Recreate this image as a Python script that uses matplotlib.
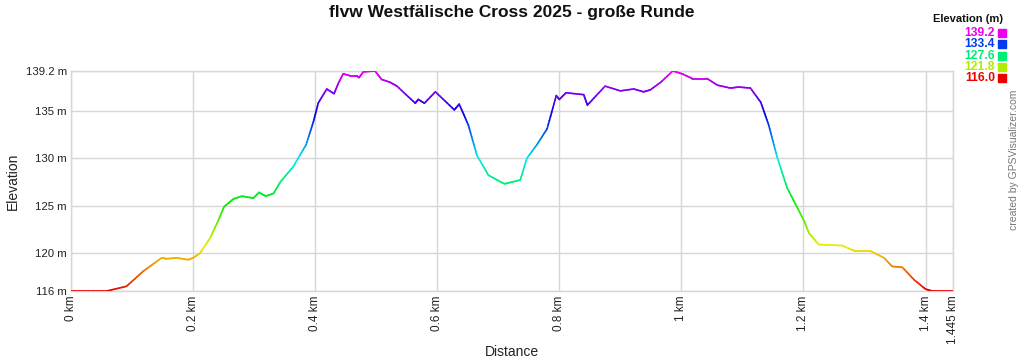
import colorsys
import numpy as np
import matplotlib.pyplot as plt
from matplotlib.collections import LineCollection

plt.rcParams["font.family"] = ["Liberation Sans", "DejaVu Sans"]

# Elevation profile (distance in km, elevation in m)
DIST_KM = [0.0, 0.0585, 0.091, 0.1186, 0.1487, 0.157, 0.173, 0.192, 0.2005, 0.2115,
           0.228, 0.239, 0.251, 0.266, 0.280, 0.299, 0.308, 0.319, 0.332, 0.343,
           0.364, 0.385, 0.397, 0.405, 0.419, 0.431, 0.438, 0.446, 0.457, 0.468,
           0.472, 0.479, 0.498, 0.509, 0.523, 0.534, 0.564, 0.569, 0.579, 0.597,
           0.628, 0.636, 0.651, 0.665, 0.684, 0.710, 0.736, 0.747, 0.763, 0.780,
           0.795, 0.800, 0.811, 0.840, 0.846, 0.875, 0.900, 0.922, 0.938, 0.949,
           0.966, 0.986, 1.001, 1.018, 1.042, 1.059, 1.080, 1.094, 1.113, 1.130,
           1.143, 1.157, 1.173, 1.201, 1.209, 1.225, 1.263, 1.285, 1.310, 1.332,
           1.345, 1.362, 1.381, 1.400, 1.411, 1.445]
ELEV_M = [116.0, 116.0, 116.5, 118.1, 119.5, 119.4, 119.5, 119.3, 119.5, 120.0,
          121.6, 123.1, 124.9, 125.7, 126.0, 125.8, 126.4, 126.0, 126.3, 127.5,
          129.1, 131.4, 133.8, 135.8, 137.3, 136.8, 137.9, 138.9, 138.7, 138.7,
          138.5, 139.1, 139.2, 138.3, 138.0, 137.6, 135.8, 136.2, 135.8, 137.0,
          135.1, 135.7, 133.5, 130.3, 128.2, 127.3, 127.7, 130.0, 131.4, 133.1,
          136.6, 136.2, 136.9, 136.7, 135.6, 137.6, 137.1, 137.3, 137.0, 137.2,
          138.0, 139.2, 138.9, 138.4, 138.4, 137.7, 137.4, 137.5, 137.4, 135.9,
          133.5, 130.1, 126.9, 123.4, 122.1, 120.9, 120.8, 120.2, 120.2, 119.5,
          118.6, 118.5, 117.2, 116.2, 116.0, 116.0]

X_TICKS = [0, 0.2, 0.4, 0.6, 0.8, 1.0, 1.2, 1.4, 1.445]
X_LABELS = ["0 km", "0.2 km", "0.4 km", "0.6 km", "0.8 km", "1 km", "1.2 km", "1.4 km", "1.445 km"]
Y_TICKS = [116, 120, 125, 130, 135, 139.2]
Y_LABELS = ["116 m", "120 m", "125 m", "130 m", "135 m", "139.2 m"]
LEGEND_VALUES = [139.2, 133.4, 127.6, 121.8, 116.0]

E_MIN, E_MAX = 116.0, 139.2


def elev_color(e):
    f = (e - E_MIN) / (E_MAX - E_MIN)
    return colorsys.hsv_to_rgb(f * 300 / 360, 1.0, 0.93)


fig = plt.figure(figsize=(10.24, 3.62), dpi=100)
ax = fig.add_axes([0.0693, 0.196, 0.8614, 0.608])

x = np.array(DIST_KM)
y = np.array(ELEV_M)
# subdivide each segment so the colour follows elevation smoothly
xs, ys = [], []
for i in range(len(x) - 1):
    t = np.linspace(0, 1, 8, endpoint=False)
    xs.extend(x[i] + (x[i + 1] - x[i]) * t)
    ys.extend(y[i] + (y[i + 1] - y[i]) * t)
xs.append(x[-1])
ys.append(y[-1])
pts = np.column_stack([xs, ys]).reshape(-1, 1, 2)
segs = np.concatenate([pts[:-1], pts[1:]], axis=1)
cols = [elev_color((ys[i] + ys[i + 1]) / 2) for i in range(len(ys) - 1)]
lc = LineCollection(segs, colors=cols, linewidths=1.2, capstyle="round", zorder=3)
ax.add_collection(lc)

ax.set_xlim(0, 1.445)
ax.set_ylim(E_MIN, E_MAX)
ax.set_xticks(X_TICKS)
ax.set_xticklabels(X_LABELS, rotation=90, fontsize=8.5, color="#222222")
ax.set_yticks(Y_TICKS)
ax.set_yticklabels(Y_LABELS, fontsize=8.2, color="#222222")
ax.tick_params(length=0, pad=3)
ax.grid(True, color="#d6d6d6", linewidth=1.0)
ax.set_axisbelow(True)
for s in ax.spines.values():
    s.set_color("#d6d6d6")
    s.set_linewidth(1.0)

ax.set_xlabel("Distance", fontsize=10, color="#222222")
ax.xaxis.label.set_va("center")
ax.xaxis.set_label_coords(0.5, -61 / 220)
ax.set_ylabel("Elevation", fontsize=10, color="#222222", labelpad=4)

fig.text(0.5, 0.965, "flvw Westfälische Cross 2025 - große Runde", ha="center", va="center",
         fontsize=12.5, fontweight="bold", color="#111111")

# colour legend, top right
fig.text(1003 / 1024, 1 - 19 / 362, "Elevation (m)", ha="right", va="center",
         fontsize=8, fontweight="bold", color="#111111")
for i, v in enumerate(LEGEND_VALUES):
    yy = 1 - (33 + i * 11.3) / 362
    c = elev_color(v)
    fig.text(995 / 1024, yy, f"{v:.1f}", ha="right", va="center", fontsize=8.7,
             fontweight="bold", color=c)
    fig.patches.append(plt.Rectangle((998 / 1024, yy - 4 / 362), 8 / 1024, 8 / 362,
                                     transform=fig.transFigure, color=c, figure=fig))

fig.text(1014 / 1024, 1 - 160 / 362, "created by GPSVisualizer.com", rotation=90,
         ha="center", va="center", fontsize=7.5, color="#777777")

fig.savefig("out.png", dpi=100)
